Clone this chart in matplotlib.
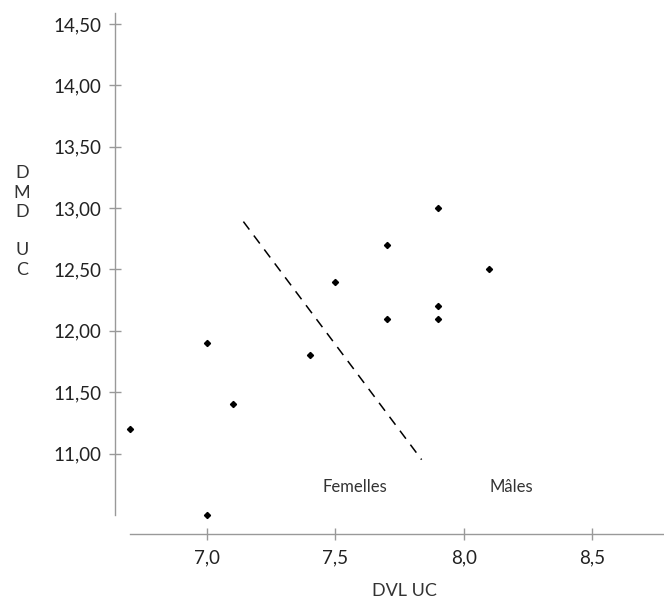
import matplotlib.pyplot as plt
from matplotlib.ticker import FuncFormatter

plt.rcParams['font.family'] = ['Lato', 'DejaVu Sans']

dvl = [6.7, 7.0, 7.0, 7.1, 7.4, 7.5, 7.7, 7.7, 7.9, 7.9, 7.9, 8.1]
dmd = [11.2, 11.9, 10.5, 11.4, 11.8, 12.4, 12.7, 12.1, 13.0, 12.2, 12.1, 12.5]

# dashed separation line between groups
sep_x = [7.142, 7.836]
sep_y = [12.89, 10.95]

x_ticks = [7.0, 7.5, 8.0, 8.5]
y_ticks = [11.0, 11.5, 12.0, 12.5, 13.0, 13.5, 14.0, 14.5]

group_labels = ['Femelles', 'Mâles']
group_x = [7.578, 8.187]
group_y = 10.73

fig = plt.figure(figsize=(6.64, 5.99), dpi=100)
ax = fig.add_axes([115 / 664, 65 / 599, 549 / 664, 521 / 599])

ax.plot(dvl, dmd, linestyle='none', marker='D', markersize=3.1, color='black')
ax.plot(sep_x, sep_y, color='black', linewidth=1.1, linestyle=(0, (6.5, 4.9)))

for lab, gx in zip(group_labels, group_x):
    ax.text(gx, group_y, lab, ha='center', va='center', fontsize=12, color='#333333')

ax.set_xlim(6.642, 8.78)
ax.set_ylim(10.344, 14.59)
ax.set_xticks(x_ticks)
ax.set_yticks(y_ticks)
ax.xaxis.set_major_formatter(FuncFormatter(lambda v, p: f'{v:.1f}'.replace('.', ',')))
ax.yaxis.set_major_formatter(FuncFormatter(lambda v, p: f'{v:.2f}'.replace('.', ',')))

for s in ['top', 'right']:
    ax.spines[s].set_visible(False)
ax.spines['left'].set_bounds(10.5, 14.59)
ax.spines['bottom'].set_bounds(6.7, 8.78)
for s in ['left', 'bottom']:
    ax.spines[s].set_color('#999999')
    ax.spines[s].set_linewidth(1.0)

ax.tick_params(direction='inout', length=8, width=1.0, color='#999999',
               labelsize=13.5, labelcolor='#222222')
ax.tick_params(axis='y', pad=6)
ax.tick_params(axis='x', pad=7)

fig.text(404.5 / 664, 1 - 591 / 599, 'DVL UC', ha='center', va='center',
         fontsize=13, color='#333333')
fig.text(22 / 664, 1 - 221.5 / 599, 'D\nM\nD\n\nU\nC', ha='center', va='center',
         fontsize=13, color='#333333', linespacing=1.25, multialignment='center')

fig.savefig('out.png', dpi=100)
